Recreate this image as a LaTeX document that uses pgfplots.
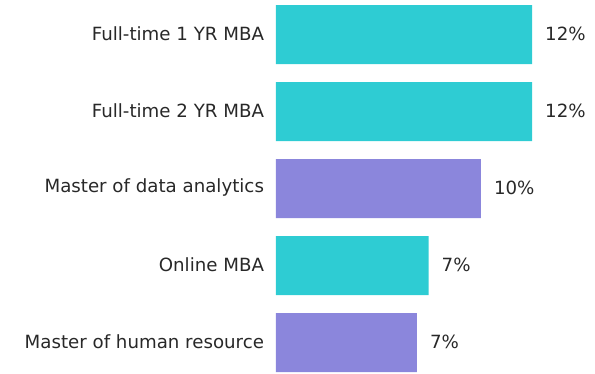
\documentclass[border=0pt]{standalone}
\usepackage{pgfplots}
\pgfplotsset{compat=1.18}
\usepackage{fontspec}
\setmainfont{DejaVu Sans}
\definecolor{teal1}{RGB}{46,204,211}
\definecolor{purp1}{RGB}{139,134,220}
\definecolor{txt}{RGB}{40,40,40}

\begin{document}
\begin{tikzpicture}[x=1pt,y=1pt]
  \useasboundingbox (0,0) rectangle (595,374);
  \begin{axis}[
      at={(276pt,-7pt)}, anchor=south west,
      scale only axis,
      width=298.7pt, height=385pt,
      xbar, bar width=59pt, bar shift=0pt,
      xmin=0, xmax=14,
      ymin=-0.5, ymax=4.5,
      y dir=reverse,
      hide x axis,
      axis y line*=left,
      y axis line style={draw=none},
      major tick length=0pt,
      ytick={0,1,2,3,4},
      yticklabels={Full-time 1 YR MBA, Full-time 2 YR MBA, Master of data analytics, Online MBA, Master of human resource},
      yticklabel style={font=\fontsize{18.2}{20}\selectfont, text=txt, xshift=-8.5pt, yshift=1pt},
      nodes near coords,
      point meta=explicit symbolic,
      every node near coord/.append style={font=\fontsize{18.2}{20}\selectfont, text=txt, anchor=west, inner sep=0pt, xshift=13pt, yshift=1pt},
      clip=false,
    ]
    \addplot[fill=teal1, draw=none] coordinates {(12.0,0) [12\%] (12.0,1) [12\%] (7.15,3) [7\%]};
    \addplot[fill=purp1, draw=none] coordinates {(9.6,2) [10\%] (6.6,4) [7\%]};
  \end{axis}
\end{tikzpicture}
\end{document}
